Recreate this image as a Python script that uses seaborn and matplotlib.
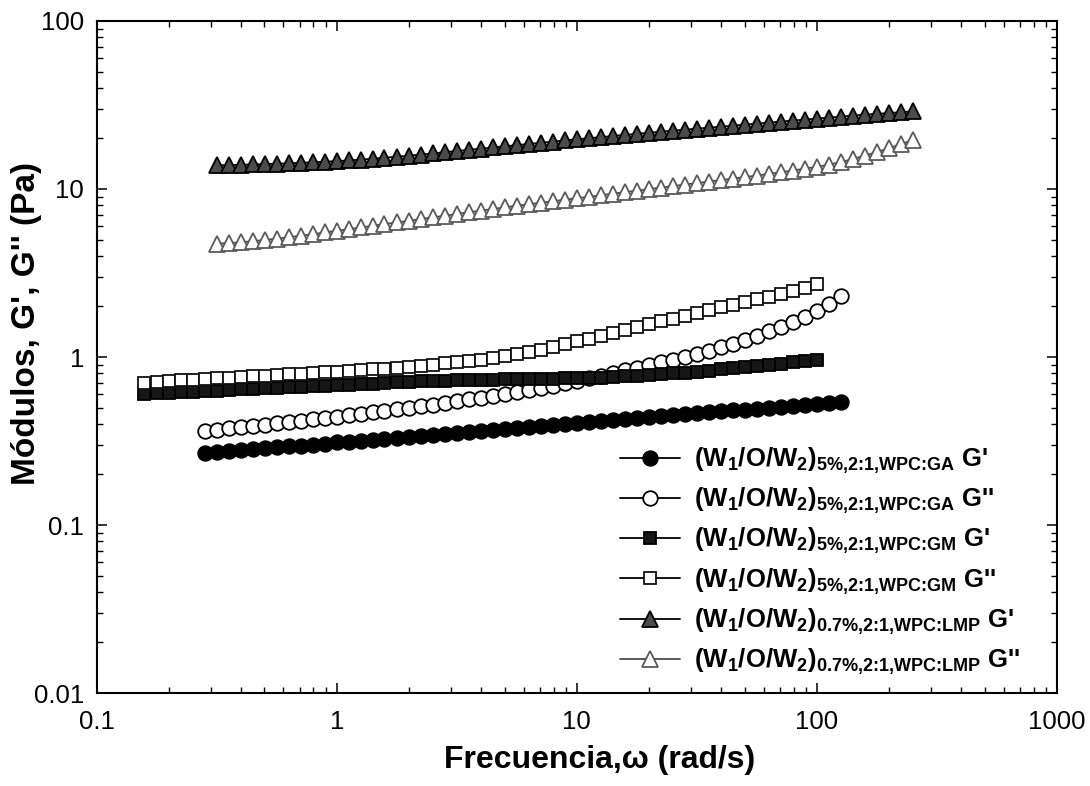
import matplotlib
matplotlib.use("Agg")
import matplotlib.pyplot as plt
import seaborn as sns
import pandas as pd
from matplotlib.ticker import LogLocator, NullFormatter

# ---------------- data ----------------
freq_gm = [0.158, 0.178, 0.200, 0.224, 0.251, 0.282, 0.316, 0.355, 0.398, 0.447,
           0.501, 0.562, 0.631, 0.708, 0.794, 0.891, 1.00, 1.12, 1.26, 1.41,
           1.58, 1.78, 2.00, 2.24, 2.51, 2.82, 3.16, 3.55, 3.98, 4.47,
           5.01, 5.62, 6.31, 7.08, 7.94, 8.91, 10.0, 11.2, 12.6, 14.1,
           15.8, 17.8, 20.0, 22.4, 25.1, 28.2, 31.6, 35.5, 39.8, 44.7,
           50.1, 56.2, 63.1, 70.8, 79.4, 89.1, 100.0]
gm_g1 = [0.604, 0.608, 0.612, 0.618, 0.622, 0.627, 0.631, 0.637, 0.641, 0.646,
         0.650, 0.655, 0.661, 0.665, 0.670, 0.675, 0.681, 0.685, 0.690, 0.695,
         0.700, 0.706, 0.711, 0.716, 0.721, 0.724, 0.728, 0.729, 0.731, 0.733,
         0.735, 0.736, 0.738, 0.740, 0.741, 0.745, 0.748, 0.752, 0.755, 0.760,
         0.766, 0.773, 0.780, 0.789, 0.798, 0.807, 0.817, 0.830, 0.843, 0.857,
         0.871, 0.885, 0.899, 0.914, 0.931, 0.948, 0.964]
gm_g2 = [0.705, 0.713, 0.719, 0.726, 0.733, 0.740, 0.746, 0.753, 0.760, 0.767,
         0.774, 0.782, 0.789, 0.796, 0.804, 0.811, 0.818, 0.826, 0.836, 0.843,
         0.853, 0.863, 0.875, 0.887, 0.902, 0.918, 0.935, 0.946, 0.964, 0.984,
         1.007, 1.035, 1.067, 1.104, 1.146, 1.191, 1.239, 1.288, 1.340, 1.393,
         1.449, 1.507, 1.567, 1.629, 1.694, 1.762, 1.832, 1.901, 1.972, 2.046,
         2.123, 2.203, 2.286, 2.377, 2.477, 2.588, 2.716]

freq_ga = [0.282, 0.316, 0.355, 0.398, 0.447, 0.501, 0.562, 0.631, 0.708, 0.794,
           0.891, 1.00, 1.12, 1.26, 1.41, 1.58, 1.78, 2.00, 2.24, 2.51,
           2.82, 3.16, 3.55, 3.98, 4.47, 5.01, 5.62, 6.31, 7.08, 7.94,
           8.91, 10.0, 11.2, 12.6, 14.1, 15.8, 17.8, 20.0, 22.4, 25.1,
           28.2, 31.6, 35.5, 39.8, 44.7, 50.1, 56.2, 63.1, 70.8, 79.4,
           89.1, 100.0, 112.0, 126.0]
ga_g1 = [0.267, 0.271, 0.275, 0.278, 0.282, 0.286, 0.290, 0.294, 0.297, 0.301,
         0.305, 0.310, 0.314, 0.318, 0.322, 0.327, 0.331, 0.336, 0.340, 0.344,
         0.349, 0.354, 0.358, 0.362, 0.366, 0.371, 0.376, 0.381, 0.386, 0.392,
         0.397, 0.403, 0.408, 0.414, 0.420, 0.426, 0.432, 0.438, 0.444, 0.450,
         0.456, 0.462, 0.468, 0.474, 0.481, 0.486, 0.493, 0.500, 0.506, 0.513,
         0.520, 0.527, 0.535, 0.542]
ga_g2 = [0.363, 0.370, 0.376, 0.382, 0.389, 0.395, 0.403, 0.409, 0.417, 0.425,
         0.433, 0.441, 0.450, 0.458, 0.468, 0.478, 0.488, 0.498, 0.508, 0.520,
         0.532, 0.546, 0.560, 0.574, 0.586, 0.600, 0.617, 0.635, 0.655, 0.676,
         0.697, 0.719, 0.745, 0.773, 0.802, 0.832, 0.863, 0.895, 0.929, 0.964,
         1.002, 1.045, 1.091, 1.143, 1.202, 1.268, 1.340, 1.419, 1.510, 1.614,
         1.738, 1.888, 2.080, 2.323]

freq_lmp = [0.316, 0.355, 0.398, 0.447, 0.501, 0.562, 0.631, 0.708, 0.794, 0.891,
            1.00, 1.12, 1.26, 1.41, 1.58, 1.78, 2.00, 2.24, 2.51, 2.82,
            3.16, 3.55, 3.98, 4.47, 5.01, 5.62, 6.31, 7.08, 7.94, 8.91,
            10.0, 11.2, 12.6, 14.1, 15.8, 17.8, 20.0, 22.4, 25.1, 28.2,
            31.6, 35.5, 39.8, 44.7, 50.1, 56.2, 63.1, 70.8, 79.4, 89.1,
            100.0, 112.0, 126.0, 141.0, 158.0, 178.0, 200.0, 224.0, 251.0]
lmp_g1 = [13.84, 13.87, 13.93, 14.00, 14.06, 14.13, 14.22, 14.32, 14.42, 14.52,
          14.66, 14.79, 14.96, 15.14, 15.35, 15.56, 15.78, 16.03, 16.29, 16.56,
          16.83, 17.10, 17.38, 17.66, 17.95, 18.24, 18.54, 18.84, 19.14, 19.45,
          19.77, 20.04, 20.37, 20.65, 20.99, 21.28, 21.63, 21.93, 22.23, 22.54,
          22.86, 23.17, 23.50, 23.82, 24.15, 24.49, 24.83, 25.18, 25.53, 25.88,
          26.24, 26.61, 26.98, 27.35, 27.67, 27.99, 28.31, 28.64, 28.97]
lmp_g2 = [4.73, 4.76, 4.82, 4.89, 4.97, 5.06, 5.16, 5.27, 5.38, 5.51,
          5.64, 5.77, 5.90, 6.04, 6.18, 6.32, 6.47, 6.62, 6.78, 6.93,
          7.10, 7.26, 7.43, 7.60, 7.78, 7.94, 8.11, 8.28, 8.45, 8.63,
          8.81, 8.99, 9.18, 9.38, 9.57, 9.77, 9.98, 10.19, 10.40, 10.62,
          10.84, 11.07, 11.30, 11.53, 11.78, 12.02, 12.30, 12.59, 12.88, 13.21,
          13.55, 13.96, 14.45, 15.07, 15.78, 16.60, 17.50, 18.49, 19.59]

series_labels = [
    r"(W$_1$/O/W$_2$)$_{\text{5%,2:1,WPC:GA}}$ G'",
    r"(W$_1$/O/W$_2$)$_{\text{5%,2:1,WPC:GA}}$ G''",
    r"(W$_1$/O/W$_2$)$_{\text{5%,2:1,WPC:GM}}$ G'",
    r"(W$_1$/O/W$_2$)$_{\text{5%,2:1,WPC:GM}}$ G''",
    r"(W$_1$/O/W$_2$)$_{\text{0.7%,2:1,WPC:LMP}}$ G'",
    r"(W$_1$/O/W$_2$)$_{\text{0.7%,2:1,WPC:LMP}}$ G''",
]
x_ticks = [0.1, 1, 10, 100, 1000]
x_ticklabels = ["0.1", "1", "10", "100", "1000"]
y_ticks = [0.01, 0.1, 1, 10, 100]
y_ticklabels = ["0.01", "0.1", "1", "10", "100"]
x_label = "Frecuencia,ω (rad/s)"
y_label = "Módulos, G', G'' (Pa)"

# ---------------- style ----------------
sns.set_theme(style="ticks")
plt.rcParams['font.family'] = ['Liberation Sans', 'DejaVu Sans']
plt.rcParams['text.color'] = 'black'
plt.rcParams['axes.labelcolor'] = 'black'
plt.rcParams['xtick.color'] = 'black'
plt.rcParams['ytick.color'] = 'black'
plt.rcParams['mathtext.fontset'] = 'custom'
plt.rcParams['mathtext.rm'] = 'Liberation Sans:bold'
plt.rcParams['mathtext.bf'] = 'Liberation Sans:bold'
plt.rcParams['mathtext.it'] = 'Liberation Sans:bold:italic'
plt.rcParams['mathtext.sf'] = 'Liberation Sans:bold'
plt.rcParams['mathtext.default'] = 'bf'

fig = plt.figure(figsize=(10.9, 7.86), dpi=100)
ax = fig.add_axes([0.0887, 0.1183, 0.881, 0.855])

series = [
    (freq_ga, ga_g1, dict(marker='o', markersize=10.5, markerfacecolor='black',
                          markeredgecolor='black', color='black')),
    (freq_ga, ga_g2, dict(marker='o', markersize=10.5, markerfacecolor='white',
                          markeredgecolor='black', color='black')),
    (freq_gm, gm_g1, dict(marker='s', markersize=9.2, markerfacecolor='#161616',
                          markeredgecolor='black', color='black')),
    (freq_gm, gm_g2, dict(marker='s', markersize=9.2, markerfacecolor='white',
                          markeredgecolor='#111111', color='black')),
    (freq_lmp, lmp_g1, dict(marker='^', markersize=11, markerfacecolor='#4b4b4b',
                            markeredgecolor='black', color='black')),
    (freq_lmp, lmp_g2, dict(marker='^', markersize=11, markerfacecolor='white',
                            markeredgecolor='#5a5a5a', color='#4a4a4a')),
]

for (fx, gy, st), lab in zip(series, series_labels):
    df = pd.DataFrame({"freq": fx, "G": gy})
    sns.lineplot(data=df, x="freq", y="G", ax=ax, estimator=None, sort=False,
                 linewidth=1.3, markeredgewidth=1.3, label=lab, **st)

ax.set_xscale('log')
ax.set_yscale('log')
ax.set_xlim(0.1, 1000)
ax.set_ylim(0.01, 100)
ax.set_xticks(x_ticks, x_ticklabels)
ax.set_yticks(y_ticks, y_ticklabels)
ax.xaxis.set_minor_locator(LogLocator(base=10, subs=range(2, 10), numticks=20))
ax.yaxis.set_minor_locator(LogLocator(base=10, subs=range(2, 10), numticks=20))
ax.xaxis.set_minor_formatter(NullFormatter())
ax.yaxis.set_minor_formatter(NullFormatter())

ax.tick_params(which='both', direction='in', top=True, right=True, colors='black')
ax.tick_params(which='major', length=7, width=1.1, labelsize=18.5)
ax.tick_params(which='minor', length=4.5, width=1.0)
ax.tick_params(axis='x', which='major', pad=12)
ax.tick_params(axis='y', which='major', pad=9)
for sp in ax.spines.values():
    sp.set_linewidth(1.5)
    sp.set_color('black')
    sp.set_visible(True)

ax.set_xlabel(x_label, fontsize=23, fontweight='bold', color='black')
ax.xaxis.set_label_coords(0.524, -0.077)
ax.set_ylabel(y_label, fontsize=24, fontweight='bold', color='black')
ax.yaxis.set_label_coords(-0.057, 0.55)

leg = ax.legend(loc='upper left', bbox_to_anchor=(0.545, 0.368), frameon=False,
                prop={'weight': 'bold', 'size': 18.5}, handlelength=2.33,
                handletextpad=0.55, labelspacing=0.38, borderpad=0, borderaxespad=0)
for t in leg.get_texts():
    t.set_color('black')

fig.savefig("out.png", dpi=100)
